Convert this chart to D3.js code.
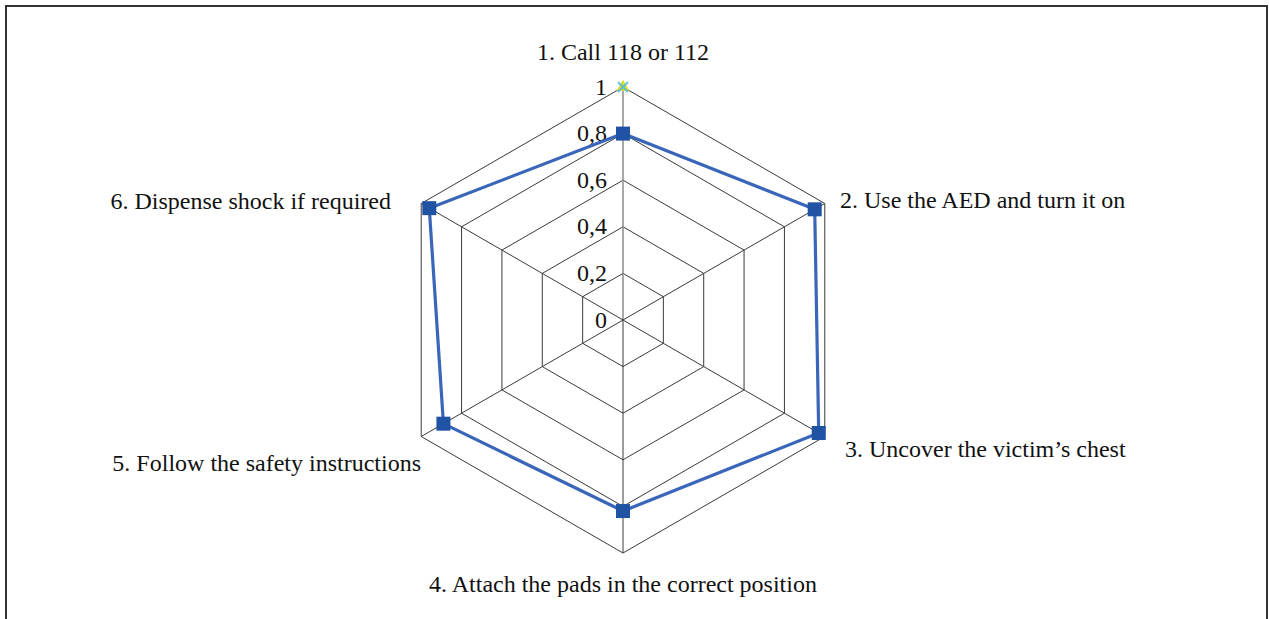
<!DOCTYPE html>
<html>
<head>
<meta charset="utf-8">
<script src="https://cdn.jsdelivr.net/npm/d3@7"></script>
<style>
  body { margin: 0; background: #fff; }
  text { font-family: "Liberation Serif", "Times New Roman", serif; fill: #111; }
</style>
</head>
<body>
<svg></svg>
<script>
// data
let categories = [
    '1. Call 118 or 112',
    '2. Use the AED and turn it on',
    '3. Uncover the victim\u2019s chest',
    '4. Attach the pads in the correct position',
    '5. Follow the safety instructions',
    '6. Dispense shock if required'
];
let values = [0.8, 0.95, 0.97, 0.82, 0.89, 0.96];
let triSeries = [1];
let crossSeries = [1];
let ticks = [0, 0.2, 0.4, 0.6, 0.8, 1];
let tickLabels = ['0', '0,2', '0,4', '0,6', '0,8', '1'];

let width = 1269;
let height = 619;
let cx = 623;
let cy = 320;
let radius = 233;

let svg = d3.select('svg').attr('width', width).attr('height', height);

// frame
svg.append('rect')
    .attr('x', 6).attr('y', 6)
    .attr('width', 1261).attr('height', 650)
    .attr('fill', 'none')
    .attr('stroke', '#333')
    .attr('stroke-width', 2);

let g = svg.append('g').attr('transform', `translate(${cx}, ${cy})`);

let rScale = d3.scaleLinear().domain([0, 1]).range([0, radius]);
let angle = d3.scaleLinear().domain([0, categories.length]).range([0, 2 * Math.PI]);

function pt(i, v) {
    let a = angle(i);
    return [rScale(v) * Math.sin(a), -rScale(v) * Math.cos(a)];
}

/**
 * grid
 */
ticks.slice(1).forEach(t => {
    g.append('path')
        .attr('d', d3.line()(categories.map((c, i) => pt(i, t))) + 'Z')
        .attr('fill', 'none')
        .attr('stroke', '#3a3a3a')
        .attr('stroke-width', 1);
});

categories.forEach((c, i) => {
    let p = pt(i, 1);
    g.append('line')
        .attr('x1', 0).attr('y1', 0)
        .attr('x2', p[0]).attr('y2', p[1])
        .attr('stroke', i === 0 ? '#8c8c8c' : '#3a3a3a')
        .attr('stroke-width', i === 0 ? 1.5 : 1);
});

// tick labels
g.selectAll('.tick')
    .data(ticks)
    .enter()
    .append('text')
    .attr('class', 'tick')
    .attr('x', -16)
    .attr('y', d => -rScale(d))
    .attr('dy', '0.32em')
    .attr('text-anchor', 'end')
    .style('font-size', '24px')
    .text((d, i) => tickLabels[i]);

// category labels
let labelPos = [
    { x: 0, y: -268, anchor: 'middle' },
    { x: 217, y: -120, anchor: 'start' },
    { x: 222, y: 129, anchor: 'start' },
    { x: 0, y: 264, anchor: 'middle' },
    { x: -202, y: 143, anchor: 'end' },
    { x: -232, y: -119, anchor: 'end' }
];

g.selectAll('.cat')
    .data(categories)
    .enter()
    .append('text')
    .attr('class', 'cat')
    .attr('x', (d, i) => labelPos[i].x)
    .attr('y', (d, i) => labelPos[i].y)
    .attr('dy', '0.32em')
    .attr('text-anchor', (d, i) => labelPos[i].anchor)
    .style('font-size', '24px')
    .text(d => d);

/**
 * series
 */
let pts = values.map((v, i) => pt(i, v));

g.append('path')
    .attr('d', d3.line()(pts) + 'Z')
    .attr('fill', 'none')
    .attr('stroke', '#3a66b9')
    .attr('stroke-width', 3.2)
    .attr('stroke-linejoin', 'round');

g.selectAll('.mk')
    .data(pts)
    .enter()
    .append('rect')
    .attr('class', 'mk')
    .attr('x', d => d[0] - 7)
    .attr('y', d => d[1] - 7)
    .attr('width', 14)
    .attr('height', 14)
    .attr('fill', '#2053a4');

// extra series markers at the top
triSeries.forEach((v, i) => {
    let p = pt(i, v);
    g.append('path')
        .attr('transform', `translate(${p[0]}, ${p[1]})`)
        .attr('d', d3.symbol().type(d3.symbolTriangle).size(70)())
        .attr('fill', '#d9e021');
});
crossSeries.forEach((v, i) => {
    let p = pt(i, v);
    g.append('path')
        .attr('transform', `translate(${p[0]}, ${p[1]})`)
        .attr('d', 'M-5,-5L5,5M5,-5L-5,5')
        .attr('stroke', '#4fb6e3')
        .attr('stroke-width', 2)
        .attr('opacity', 0.85);
});
</script>
</body>
</html>
